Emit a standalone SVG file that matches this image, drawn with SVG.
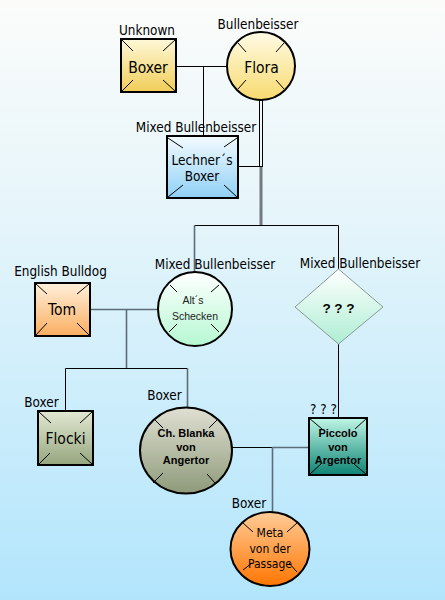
<svg xmlns="http://www.w3.org/2000/svg" width="445" height="600" viewBox="0 0 445 600">
<defs>
<linearGradient id="bg" x1="0" y1="0" x2="0" y2="1"><stop offset="0" stop-color="#fbfcfa"/><stop offset="0.35" stop-color="#e6f5fa"/><stop offset="1" stop-color="#b2e5fc"/></linearGradient>
<linearGradient id="gYel" x1="0" y1="0" x2="0" y2="1"><stop offset="0" stop-color="#fdf8d8"/><stop offset="1" stop-color="#f1cd58"/></linearGradient>
<linearGradient id="gFlora" x1="0" y1="0" x2="0" y2="1"><stop offset="0" stop-color="#fffbe6"/><stop offset="1" stop-color="#f7da6e"/></linearGradient>
<linearGradient id="gBlue" x1="0" y1="0" x2="0" y2="1"><stop offset="0" stop-color="#f4fbff"/><stop offset="1" stop-color="#8fd0f6"/></linearGradient>
<linearGradient id="gPeach" x1="0" y1="0" x2="0" y2="1"><stop offset="0" stop-color="#fff0dc"/><stop offset="1" stop-color="#fbae60"/></linearGradient>
<linearGradient id="gMint" x1="0" y1="0" x2="0" y2="1"><stop offset="0" stop-color="#ffffff"/><stop offset="1" stop-color="#b6f8d2"/></linearGradient>
<linearGradient id="gDia" x1="0" y1="0" x2="0" y2="1"><stop offset="0" stop-color="#ffffff"/><stop offset="1" stop-color="#aeeed4"/></linearGradient>
<linearGradient id="gOlive" x1="0" y1="0" x2="0" y2="1"><stop offset="0" stop-color="#e2e8d2"/><stop offset="1" stop-color="#96a67e"/></linearGradient>
<linearGradient id="gGrey" x1="0" y1="0" x2="0" y2="1"><stop offset="0" stop-color="#e0e0d2"/><stop offset="1" stop-color="#8e9a7a"/></linearGradient>
<linearGradient id="gTeal" x1="0" y1="0" x2="0" y2="1"><stop offset="0" stop-color="#bff6e6"/><stop offset="1" stop-color="#0e8474"/></linearGradient>
<linearGradient id="gOrange" x1="0" y1="0" x2="0" y2="1"><stop offset="0" stop-color="#ffcc98"/><stop offset="1" stop-color="#ff7602"/></linearGradient>
</defs>
<style>
.shape{stroke:#000;stroke-width:2}
.tick{stroke:#000;stroke-width:1;fill:none}
.lbl{font-family:"DejaVu Sans Condensed","DejaVu Sans",sans-serif;font-size:13.4px;fill:#000;text-anchor:middle}
.main{font-family:"DejaVu Sans Condensed","DejaVu Sans",sans-serif;font-size:15.5px;fill:#000;text-anchor:middle}
.bold{font-family:"Liberation Sans",Arial,sans-serif;font-weight:bold;font-size:11px;fill:#000;text-anchor:middle}
.small{font-family:"Liberation Sans",Arial,sans-serif;font-size:10.5px;fill:#222;text-anchor:middle}
.blk{stroke:#000;stroke-width:1;fill:none}
.gry{stroke:#5c6c78;stroke-width:1.6;fill:none}
</style>
<rect x="0" y="0" width="445" height="600" fill="url(#bg)"/>

<g id="connectors">
<path class="blk" d="M176,66.5H227M203.5,66.5V136"/>
<path class="blk" d="M259.5,100V167M262.5,100V167M239,166.5H262.5"/>
<path d="M261,167V225" stroke="#707a80" stroke-width="3" fill="none"/>
<path class="blk" d="M194.5,225.5H338.5M338.5,225.5V269"/>
<path class="gry" d="M194.5,225.5V272"/>
<path class="gry" d="M90,309.5H157M126.5,309.5V368"/>
<path class="blk" d="M65.5,368.5H187.5M65.5,368.5V411"/>
<path class="gry" d="M187.5,368.5V408"/>
<path class="blk" d="M338.5,344V417"/>
<path class="blk" d="M232,447.5H272.5"/>
<path class="gry" d="M272.5,447.5H308M272.5,447.5V512"/>
</g>

<g id="node-boxer">
<rect class="shape" x="121" y="39" width="55" height="53" fill="url(#gYel)"/>
<path class="tick" d="M122,40L133,51M175,40L163,51M122,91L133,80M175,91L163,80"/>
<text class="lbl" x="147" y="35">Unknown</text>
<text class="main" x="148" y="73">Boxer</text>
</g>

<g id="node-flora">
<circle class="shape" cx="261" cy="66" r="34" fill="url(#gFlora)"/>
<path class="tick" d="M238,43L246,52M284,43L276,52M238,89L246,80M284,89L276,80"/>
<text class="lbl" x="258" y="29">Bullenbeisser</text>
<text class="main" x="261.5" y="73">Flora</text>
</g>

<g id="node-lechner">
<rect class="shape" x="167" y="136" width="71" height="62" fill="url(#gBlue)"/>
<path class="tick" d="M168,138L183,148M237,138L224,147M168,197L183,185M237,197L224,185"/>
<text class="lbl" x="196" y="132">Mixed Bullenbeisser</text>
<text class="main" x="202" y="165" style="font-size:13.5px">Lechner´s</text>
<text class="main" x="202" y="181" style="font-size:13.5px">Boxer</text>
</g>

<g id="node-tom">
<rect class="shape" x="35" y="283" width="55" height="53" fill="url(#gPeach)"/>
<path class="tick" d="M36,284L47,294M89,284L77,294M36,335L47,323M89,335L77,323"/>
<text class="lbl" x="60.5" y="276">English Bulldog</text>
<text class="main" x="62" y="315">Tom</text>
</g>

<g id="node-alts">
<circle class="shape" cx="195" cy="309" r="37" fill="url(#gMint)"/>
<path class="tick" d="M170,285L177,292M219,285L211,292M169,332L177,324M219,332L211,324"/>
<text class="lbl" x="215" y="269">Mixed Bullenbeisser</text>
<text class="small" x="193" y="304">Alt´s</text>
<text class="small" x="195" y="320">Schecken</text>
</g>

<g id="node-unknown">
<polygon points="338.5,269 383,307 338.5,344 295,307" fill="url(#gDia)" stroke="#8a9a94" stroke-width="1"/>
<text class="lbl" x="360" y="268">Mixed Bullenbeisser</text>
<text class="bold" x="338.5" y="313" style="font-size:13.5px">? ? ?</text>
</g>

<g id="node-flocki">
<rect class="shape" x="38" y="411" width="55" height="54" fill="url(#gOlive)"/>
<path class="tick" d="M39,412L51,423M92,412L80,423M39,464L50,453M92,464L80,453"/>
<text class="lbl" x="41.5" y="407">Boxer</text>
<text class="main" x="65.5" y="444">Flocki</text>
</g>

<g id="node-blanka">
<ellipse class="shape" cx="186" cy="450.5" rx="46" ry="43" fill="url(#gGrey)"/>
<path class="tick" d="M155,420L163,428M217,420L209,428M153,483L163,473M215,483L207,474"/>
<text class="lbl" x="164.5" y="400">Boxer</text>
<text class="bold" x="186" y="437">Ch. Blanka</text>
<text class="bold" x="186" y="451">von</text>
<text class="bold" x="186" y="464">Angertor</text>
</g>

<g id="node-piccolo">
<rect class="shape" x="309" y="418" width="58" height="57" fill="url(#gTeal)"/>
<path class="tick" d="M309,418L322,429M367,418L355,429M309,475L322,463M367,475L354,464"/>
<text class="lbl" x="323.5" y="414">? ? ?</text>
<text class="bold" x="338" y="437">Piccolo</text>
<text class="bold" x="338" y="451">von</text>
<text class="bold" x="338" y="464">Argentor</text>
</g>

<g id="node-meta">
<ellipse class="shape" cx="270" cy="549" rx="39.5" ry="37" fill="url(#gOrange)"/>
<path class="tick" d="M243,523L253,532M297,523L287,532M243,570L252,563M297,572L289,563"/>
<text class="lbl" x="249" y="508">Boxer</text>
<text class="main" x="270" y="537" style="font-size:12px">Meta</text>
<text class="main" x="270" y="553" style="font-size:12px">von der</text>
<text class="main" x="270" y="568" style="font-size:12px">Passage</text>
</g>
</svg>
